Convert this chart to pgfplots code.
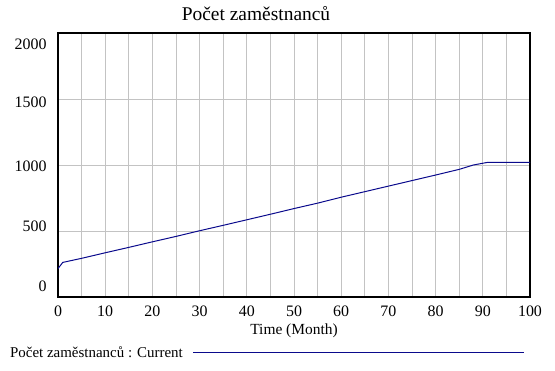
\documentclass[border=0pt]{standalone}
\usepackage{fontspec}
\setmainfont{Liberation Serif}
\usepackage{pgfplots}
\pgfplotsset{compat=1.18}
\definecolor{navyline}{RGB}{10,10,140}
\definecolor{gridgray}{RGB}{195,195,195}
\begin{document}
\begin{tikzpicture}[x=1bp,y=1bp]
\useasboundingbox (0,0) rectangle (555,370);
\node[font=\fontsize{19.5}{22}\selectfont, anchor=center] at (256,356) {Počet zaměstnanců};
\begin{axis}[
  at={(58bp,73bp)}, anchor=south west,
  width=472bp, height=264bp, scale only axis,
  xmin=0, xmax=100, ymin=0, ymax=2000,
  /pgf/number format/assume math mode=true,
  axis line style={line width=2.5bp, black},
  tick style={draw=none},
  major tick length=0pt,
  xtick={0,5,...,100},
  xticklabels={0,,10,,20,,30,,40,,50,,60,,70,,80,,90,,100},
  ytick={500,1000,1500},
  yticklabels={},
  extra y ticks={78,533,992,1472,1917},
  extra y tick labels={0,500,1000,1500,2000},
  extra y tick style={grid=none, tick style={draw=none}},
  grid=major,
  major grid style={gridgray, line width=1bp},
  ticklabel style={font=\fontsize{16}{18}\selectfont},
  xticklabel style={yshift=-5bp},
  yticklabel style={xshift=-8bp},
  xlabel={Time (Month)},
  xlabel style={font=\fontsize{15.5}{17}\selectfont, yshift=-1bp},
  legend plot pos=right,
  legend image code/.code={\draw[#1] (0bp,0bp) -- (331bp,0bp);},
  legend style={draw=none, fill=none, at={(axis description cs:-0.106,-0.212)}, anchor=west,
    font=\fontsize{15}{17}\selectfont, inner xsep=0pt, inner ysep=0pt, column sep=8bp},
  legend cell align=left,
]
\addplot[navyline, line width=1bp] coordinates {
(0,215) (1,262) (5,293) (10,335) (15,376) (20,418) (25,459) (30,502)
(35,543) (40,585) (45,627) (50,670) (55,711) (60,756) (65,798) (70,840)
(75,882) (80,924) (85,967) (88,1000) (91,1020) (100,1020)
};
\addlegendentry{Počet zaměstnanců : Current}
\end{axis}
\end{tikzpicture}
\end{document}
